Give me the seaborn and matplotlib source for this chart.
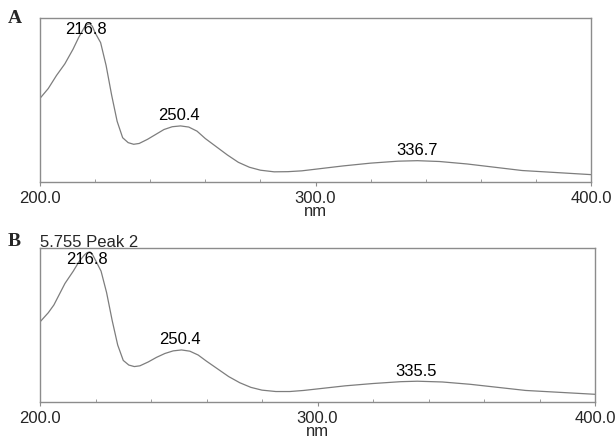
import numpy as np
import pandas as pd
import seaborn as sns
import matplotlib
matplotlib.use("Agg")
import matplotlib.pyplot as plt
from matplotlib.ticker import MultipleLocator, FixedLocator

# spectrum A (wavelength nm, relative absorbance)
nm_a = [200, 203, 206, 209, 212, 214, 216, 217, 218, 219, 220, 222, 224, 226, 228,
        230, 232, 234, 236, 239, 242, 245, 248, 251, 254, 257, 260, 264, 268, 272,
        276, 280, 285, 290, 295, 300, 310, 320, 330, 337, 345, 355, 365, 375, 385,
        395, 400]
abs_a = [0.51, 0.57, 0.65, 0.72, 0.81, 0.88, 0.94, 0.96, 0.965, 0.95, 0.91, 0.85,
         0.71, 0.53, 0.37, 0.27, 0.24, 0.23, 0.235, 0.26, 0.29, 0.32, 0.337, 0.342,
         0.335, 0.31, 0.265, 0.215, 0.165, 0.12, 0.09, 0.072, 0.062, 0.063, 0.068,
         0.078, 0.098, 0.115, 0.127, 0.13, 0.125, 0.11, 0.09, 0.07, 0.06, 0.05, 0.045]

# spectrum B
nm_b = [200, 203, 205, 207, 209, 212, 214, 216, 217, 218, 219, 220, 222, 224, 226,
        228, 230, 232, 234, 236, 239, 242, 245, 248, 251, 254, 257, 260, 264, 268,
        272, 276, 280, 285, 290, 295, 300, 310, 320, 330, 336, 345, 355, 365, 375,
        385, 395, 400]
abs_b = [0.52, 0.58, 0.63, 0.70, 0.77, 0.85, 0.91, 0.955, 0.97, 0.975, 0.955, 0.92,
         0.85, 0.71, 0.53, 0.37, 0.27, 0.24, 0.23, 0.235, 0.26, 0.29, 0.315, 0.332,
         0.338, 0.33, 0.305, 0.265, 0.215, 0.165, 0.125, 0.095, 0.077, 0.068, 0.068,
         0.075, 0.085, 0.105, 0.12, 0.132, 0.135, 0.13, 0.115, 0.095, 0.075, 0.065,
         0.055, 0.05]

peaks_a = [(216.8, 0.965), (250.4, 0.342), (336.7, 0.13)]
peaks_b = [(216.8, 0.975), (250.4, 0.338), (335.5, 0.135)]

xticks = [200, 300, 400]
xtick_labels = ["200.0", "300.0", "400.0"]

sns.set_style("white")
plt.rcParams['font.family'] = ['Liberation Sans', 'DejaVu Sans']

fig = plt.figure(figsize=(6.16, 4.39), dpi=100)
ax_a = fig.add_axes([40 / 616, 1 - 183 / 439, 551 / 616, 164 / 439])
ax_b = fig.add_axes([40 / 616, 1 - 403 / 439, 555 / 616, 154 / 439])

line_col = "#7d7d7d"
frame_col = "#8c8c8c"
fs = 12

for ax, nm, ab, peaks in [(ax_a, nm_a, abs_a, peaks_a), (ax_b, nm_b, abs_b, peaks_b)]:
    df = pd.DataFrame({"nm": nm, "abs": ab})
    sns.lineplot(data=df, x="nm", y="abs", ax=ax, color=line_col, linewidth=0.9)
    # highest peak: label sits just inside the top of the frame
    top_x = peaks[0][0]
    ax.annotate(f"{top_x:.1f}", (top_x, 1.0), xycoords=("data", "axes fraction"),
                xytext=(0, -2.5), textcoords="offset points",
                ha="center", va="top", fontsize=fs, color="black")
    for px, py in peaks[1:]:
        ax.annotate(f"{px:.1f}", (px, py), xytext=(0, 2.5), textcoords="offset points",
                    ha="center", va="bottom", fontsize=fs, color="black")
    ax.set_xlim(200, 400)
    ax.set_ylim(0, 1)
    ax.set_yticks([])
    ax.xaxis.set_major_locator(FixedLocator(xticks))
    ax.set_xticklabels(xtick_labels)
    ax.xaxis.set_minor_locator(MultipleLocator(20))
    ax.tick_params(axis="x", which="major", direction="out", length=3, width=0.8,
                   color=frame_col, labelsize=fs, pad=2.5, bottom=True)
    ax.tick_params(axis="x", which="minor", direction="in", length=2, width=0.6,
                   color=frame_col, bottom=True)
    ax.set_xlabel("nm", fontsize=fs, labelpad=-1)
    ax.set_ylabel("")
    for s in ax.spines.values():
        s.set_color(frame_col)
        s.set_linewidth(1.0)

ax_b.text(0.0, 1.012, "5.755 Peak 2", transform=ax_b.transAxes, ha="left",
          va="baseline", fontsize=fs)

fig.text(8 / 616, 1 - 23 / 439, "A", family="Liberation Serif", fontweight="bold",
         fontsize=14)
fig.text(8 / 616, 1 - 246 / 439, "B", family="Liberation Serif", fontweight="bold",
         fontsize=14)

fig.savefig("out.png", dpi=100)
